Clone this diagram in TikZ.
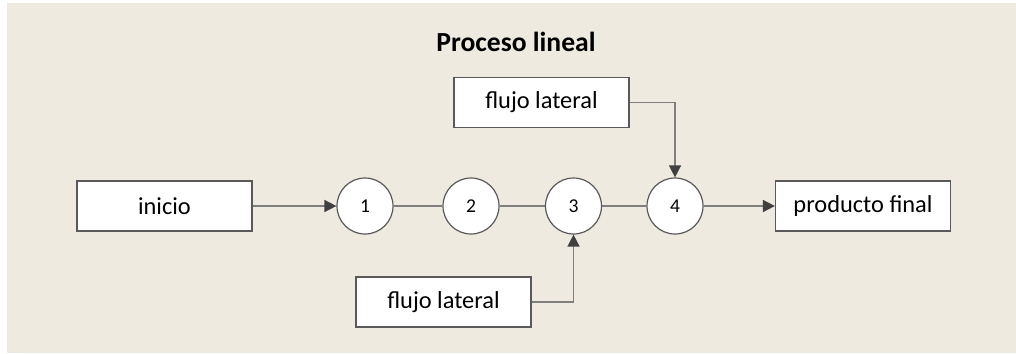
\documentclass[tikz,border=0pt]{standalone}
\usepackage{fontspec}
\setmainfont{Carlito}
\usetikzlibrary{arrows.meta}
\definecolor{bgc}{HTML}{EEEAE0}
\definecolor{edgec}{HTML}{595959}
\definecolor{linec}{HTML}{7F7F7F}
\definecolor{tipc}{HTML}{404040}
\tikzset{
  boxn/.style={draw=edgec, line width=0.6pt, fill=white, minimum width=87.5pt, minimum height=25pt, inner sep=0pt, font=\fontsize{12.2}{14}\selectfont},
  circn/.style={draw=edgec, line width=0.6pt, fill=white, circle, minimum size=28pt, inner sep=0pt, font=\fontsize{9.8}{12}\selectfont},
  conn/.style={draw=linec, line width=0.75pt},
  arr/.style={conn, -{Triangle[length=6pt,width=6pt,color=tipc]}}
}
\begin{document}
\begin{tikzpicture}[x=0.5pt,y=-0.5pt]
\useasboundingbox (0,0) rectangle (1016,353);
\fill[bgc] (7,3) rectangle (1016,353);
\node[font=\fontsize{13.8}{16}\bfseries] (title) at (516,42) {Proceso lineal};
\node[boxn] (ini) at (164.5,206) {inicio};
\node[circn] (c1) at (365,206) {1};
\node[circn] (c2) at (471,206) {2};
\node[circn] (c3) at (573.5,206) {3};
\node[circn] (c4) at (675,206) {4};
\node[boxn] (prod) at (863,206) {producto final};
\node[boxn] (top) at (541.5,102.5) {flujo lateral};
\node[boxn] (bot) at (443.5,302) {flujo lateral};
% connectors
\draw[arr] (ini.east) -- (c1.west);
\draw[conn] (c1) -- (c2);
\draw[conn] (c2) -- (c3);
\draw[conn] (c3) -- (c4);
\draw[arr] (c4.east) -- (prod.west);
\draw[arr] (top.east) -| (c4.north);
\draw[arr] (bot.east) -| (c3.south);
\end{tikzpicture}
\end{document}
